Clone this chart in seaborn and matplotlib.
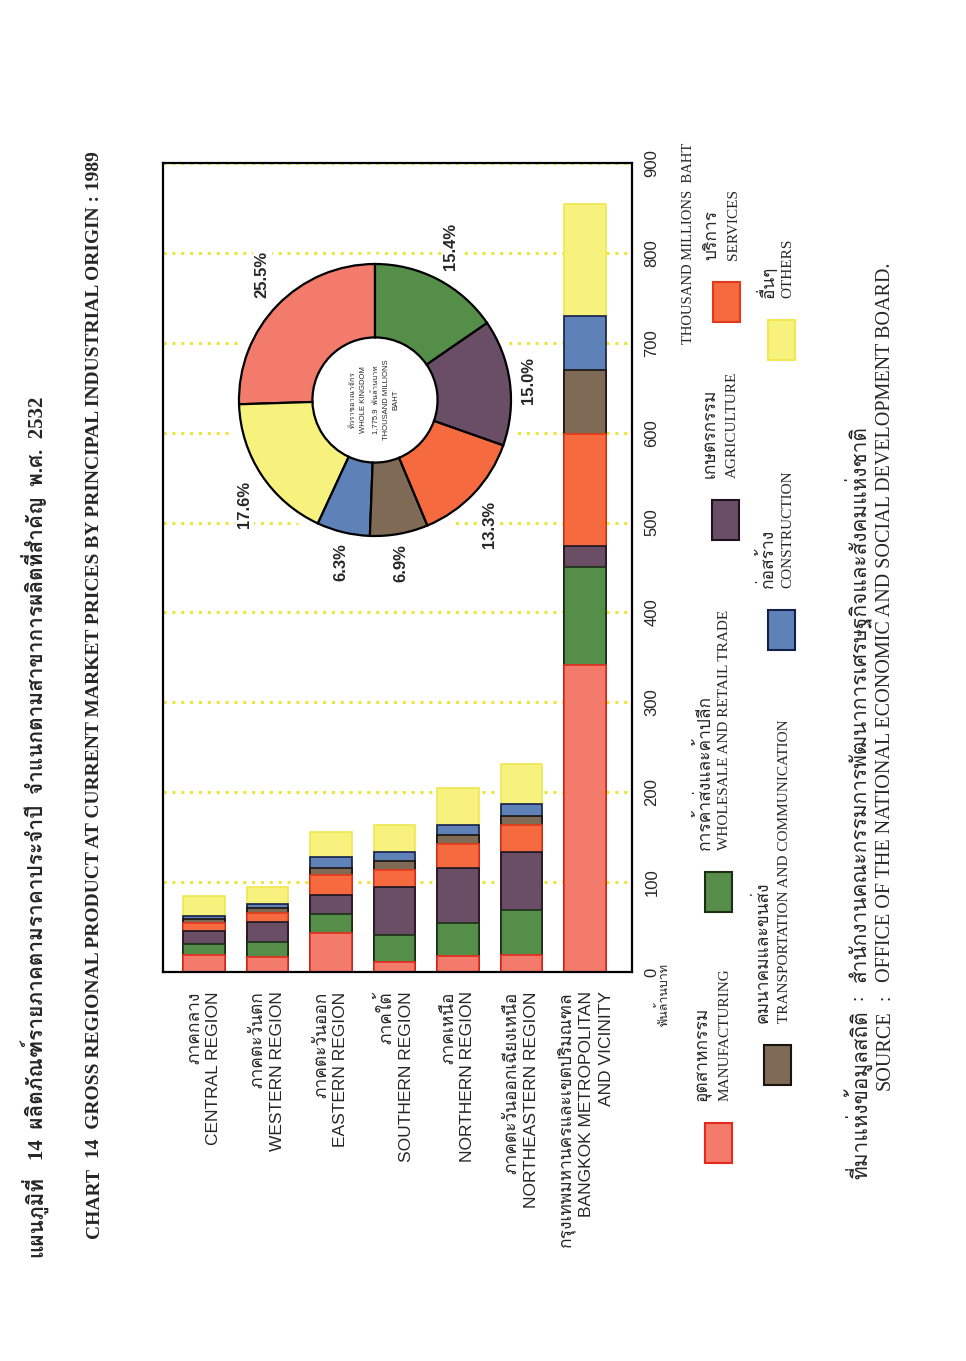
#!/usr/bin/env python3
"""
Gross regional product by principal industrial origin, 1989 (Thailand).
Page is printed rotated, so the chart is drawn as columns with all text turned 90 degrees.
"""

import numpy as np
import matplotlib
matplotlib.use('Agg')
import matplotlib.pyplot as plt
import seaborn as sns
from matplotlib import font_manager
from matplotlib.ft2font import FT2Font
from matplotlib.patches import Rectangle, Circle

# ---- data (thousand million baht) ----
regions = ['CENTRAL', 'WESTERN', 'EASTERN', 'SOUTHERN', 'NORTHERN', 'NORTHEASTERN', 'BANGKOK']
region_labels = [
    'ภาคกลาง\nCENTRAL REGION',
    'ภาคตะวันตก\nWESTERN REGION',
    'ภาคตะวันออก\nEASTERN REGION',
    'ภาคใต้\nSOUTHERN REGION',
    'ภาคเหนือ\nNORTHERN REGION',
    'ภาคตะวันออกเฉียงเหนือ\nNORTHEASTERN REGION',
    'กรุงเทพมหานครและเขตปริมณฑล\nBANGKOK METROPOLITAN\nAND VICINITY',
]
sectors_en = ['MANUFACTURING', 'WHOLESALE AND RETAIL TRADE', 'AGRICULTURE', 'SERVICES',
              'TRANSPORTATION AND COMMUNICATION', 'CONSTRUCTION', 'OTHERS']
sectors_th = ['อุตสาหกรรม', 'การค้าส่งและค้าปลีก', 'เกษตรกรรม', 'บริการ',
              'คมนาคมและขนส่ง', 'ก่อสร้าง', 'อื่นๆ']

manufacturing = [19, 17, 43, 11, 18, 19, 342]
wholesale = [12, 16, 21, 30, 36, 50, 109]
agriculture = [15, 23, 22, 54, 62, 64, 23]
services = [8, 10, 22, 19, 26, 30, 125]
transport = [5, 5, 8, 9, 10, 10, 71]
construction = [3, 5, 12, 11, 11, 14, 60]
others = [23, 19, 28, 30, 42, 44, 124]

# whole kingdom shares (%) in sector order
kingdom_share = [25.5, 15.4, 15.0, 13.3, 6.9, 6.3, 17.6]
pie_order = [0, 6, 5, 4, 3, 2, 1]   # order round the ring, counter-clockwise from the top

value_ticks = [0, 100, 200, 300, 400, 500, 600, 700, 800, 900]

colors = ['#F27B6C', '#558E48', '#6A4E66', '#F56A3E', '#7E6A55', '#5E82B8', '#F7F27E']
edge_colors = ['#E52A1C', '#1C2E18', '#1E1420', '#E5391C', '#1A1410', '#14204A', '#EFE850']

# ---- fonts ----
def font_with(char):
    code = ord(char)
    for entry in font_manager.fontManager.ttflist:
        try:
            if code in FT2Font(entry.fname).get_charmap():
                return entry.name
        except Exception:
            continue
    return 'DejaVu Sans'

installed = {f.name for f in font_manager.fontManager.ttflist}
thai = font_with('ก')
narrow = 'Liberation Sans Narrow' if 'Liberation Sans Narrow' in installed else 'Liberation Sans'
sans_fam = [narrow, thai]
serif_fam = ['Liberation Serif', thai]

sns.set_theme(style='white')
plt.rcParams['font.family'] = sans_fam

W, H = 966, 1361
fig = plt.figure(figsize=(W / 100, H / 100), dpi=100)


def fx(x):
    return x / W


def fy(y):
    return 1 - y / H


def rtext(x, y, s, **kw):
    fig.text(fx(x), fy(y), s, rotation=90, **kw)


# ---- stacked columns ----
ax = fig.add_axes([fx(163), fy(972), (632 - 163) / W, (972 - 163) / H])
stack = np.array([manufacturing, wholesale, agriculture, services, transport, construction, others])
cum = np.cumsum(stack, axis=0)
for k in reversed(range(len(sectors_en))):
    sns.barplot(x=regions, y=cum[k], color=colors[k], saturation=1, width=0.66,
                edgecolor=edge_colors[k], linewidth=1.2, errorbar=None, ax=ax)

ax.set_xlim(-0.646, 6.74)
ax.set_ylim(0, 900)
ax.set_xlabel('')
ax.set_ylabel('')
ax.set_xticks(range(len(regions)))
ax.set_xticklabels(region_labels, rotation=90, ha='center', va='top', multialignment='right',
                   fontsize=12.5, family=sans_fam, linespacing=1.35)
ax.yaxis.set_ticks_position('right')
ax.set_yticks(value_ticks)
ax.set_yticklabels([str(v) for v in value_ticks], rotation=90, ha='left', va='center',
                   fontsize=12, family=sans_fam)
ax.tick_params(axis='x', length=0, pad=14)
ax.tick_params(axis='y', length=0, pad=9)
ax.set_axisbelow(True)
ax.grid(axis='y', color='#EDE53A', linestyle=(0, (1.0, 1.9)), linewidth=2.2)
ax.grid(axis='x', visible=False)
for sp in ax.spines.values():
    sp.set_visible(True)
    sp.set_color('black')
    sp.set_linewidth(1.6)

rtext(664, 963, 'พันล้านบาท', ha='center', va='top', fontsize=9, family=sans_fam)
rtext(689, 143, 'THOUSAND MILLIONS  BAHT', ha='center', va='top', fontsize=10.5, family=serif_fam)

# ---- whole kingdom ring ----
pie_r = 136
axp = fig.add_axes([fx(375 - 1.25 * pie_r), fy(400 + 1.25 * pie_r), 2.5 * pie_r / W, 2.5 * pie_r / H])
axp.add_patch(Circle((0, 0), 1.07, facecolor='white', edgecolor='none', zorder=0))
wedges, texts = axp.pie([kingdom_share[i] for i in pie_order],
                        colors=[colors[i] for i in pie_order],
                        labels=[f'{kingdom_share[i]:.1f}%' for i in pie_order],
                        startangle=90, counterclock=True, labeldistance=1.08,
                        wedgeprops=dict(width=0.54, edgecolor='black', linewidth=1.6),
                        textprops=dict(rotation=90, fontsize=12, fontweight='bold', family=sans_fam))
for t in texts:
    x, y = t.get_position()
    r = np.hypot(x, y)
    t.set_ha('center' if abs(x) < 0.3 * r else ('left' if x > 0 else 'right'))
    t.set_va('center' if abs(y) < 0.3 * r else ('bottom' if y > 0 else 'top'))
    t.set_bbox(dict(facecolor='white', edgecolor='none', pad=1.5))
axp.text(0, 0, 'ทั่วราชอาณาจักร\nWHOLE KINGDOM\n1,775.9  พันล้านบาท\nTHOUSAND MILLIONS\nBAHT',
         rotation=90, ha='center', va='center', multialignment='center', fontsize=5.5,
         family=sans_fam, linespacing=1.6)

# ---- legend ----
legend_pos = [(718, 1143), (718, 892), (725, 520), (726, 302),
              (777, 1065), (781, 630), (781, 340)]
for k, (bx, by) in enumerate(legend_pos):
    fig.patches.append(Rectangle((fx(bx - 13.5), fy(by + 20)), 27 / W, 40 / H,
                                 transform=fig.transFigure, facecolor=colors[k],
                                 edgecolor=edge_colors[k], linewidth=1.5))
    rtext(bx - 14, by - 42, sectors_th[k], ha='center', va='bottom', fontsize=12.5,
          family=[thai])
    rtext(bx + 7, by - 42, sectors_en[k], ha='center', va='bottom', fontsize=11,
          family=serif_fam)

# ---- title and source ----
rtext(35, 1257, 'แผนภูมิที่', ha='center', va='bottom', fontsize=15, fontweight='bold', family=[thai])
rtext(35, 1160, '14  ผลิตภัณฑ์รายภาคตามราคาประจำปี  จำแนกตามสาขาการผลิตที่สำคัญ  พ.ศ.  2532',
      ha='center', va='bottom', fontsize=15, fontweight='bold', family=serif_fam)
rtext(95, 1238, 'CHART', ha='center', va='bottom', fontsize=14, fontweight='bold', family=serif_fam)
rtext(95, 1158, '14  GROSS REGIONAL PRODUCT AT CURRENT MARKET PRICES BY PRINCIPAL INDUSTRIAL ORIGIN : 1989',
      ha='center', va='bottom', fontsize=14, fontweight='bold', family=serif_fam)

rtext(858, 1010, 'ที่มาแห่งข้อมูลสถิติ', ha='center', va='top', fontsize=15, family=serif_fam)
rtext(858, 997, ':', ha='center', va='center', fontsize=14, family=serif_fam)
rtext(858, 982, 'สำนักงานคณะกรรมการพัฒนาการเศรษฐกิจและสังคมแห่งชาติ', ha='center', va='bottom',
      fontsize=15, family=serif_fam)
rtext(885, 1010, 'SOURCE', ha='center', va='top', fontsize=14.5, family=serif_fam)
rtext(885, 997, ':', ha='center', va='center', fontsize=14, family=serif_fam)
rtext(885, 982, 'OFFICE OF THE NATIONAL ECONOMIC AND SOCIAL DEVELOPMENT BOARD.', ha='center',
      va='bottom', fontsize=14.5, family=serif_fam)

fig.savefig('out.png', dpi=100)
